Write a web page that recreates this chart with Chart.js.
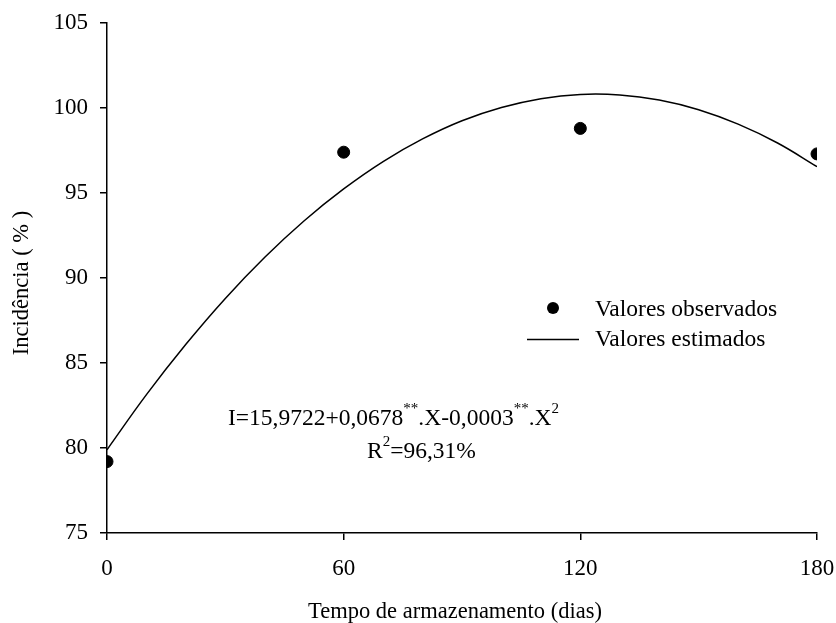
<!DOCTYPE html>
<html><head><meta charset="utf-8">
<script src="https://cdn.jsdelivr.net/npm/chart.js@4"></script>
<style>html,body{margin:0;padding:0;background:#fff}#wrap{width:836px;height:623px;position:relative}</style>
</head><body><div id="wrap"><canvas id="c" width="836" height="623"></canvas></div>
<script>
// Observed values
const obsDays = [0, 60, 120, 180];
const obsValues = [79.2, 97.4, 98.8, 97.3];
// Estimated curve
const estDays = [0, 10, 20, 30, 40, 50, 60, 70, 80, 90, 100, 110, 120, 130, 140, 150, 160, 170, 180];
const estValues = [79.9, 83.14, 86.1, 88.8, 91.22, 93.37, 95.24, 96.85, 98.18, 99.25, 100.03, 100.55, 100.8, 100.77, 100.47, 99.9, 99.05, 97.94, 96.55];
const xTicks = [0, 60, 120, 180];
const yTicks = [75, 80, 85, 90, 95, 100, 105];
const legendLabels = ['Valores observados', 'Valores estimados'];
const xTitle = 'Tempo de armazenamento (dias)';
const yTitle = 'Incidência ( % )';

const FONT = "'Liberation Serif', 'Times New Roman', serif";
Chart.defaults.font.family = FONT;
Chart.defaults.color = '#000';

const textPlugin = {
  id: 'texts',
  afterDraw(chart) {
    const ctx = chart.ctx;
    ctx.save();
    ctx.fillStyle = '#000';
    ctx.strokeStyle = '#000';
    // axis titles
    ctx.font = '22.5px ' + FONT;
    ctx.textAlign = 'center';
    ctx.textBaseline = 'middle';
    ctx.fillText(xTitle, 455, 612);
    ctx.save();
    ctx.translate(22, 283);
    ctx.rotate(-Math.PI / 2);
    ctx.fillText(yTitle, 0, 0);
    ctx.restore();
    // legend
    ctx.font = '23.5px ' + FONT;
    ctx.textAlign = 'left';
    ctx.beginPath();
    ctx.arc(553, 308, 6, 0, Math.PI * 2);
    ctx.fill();
    ctx.fillText(legendLabels[0], 595, 310);
    ctx.lineWidth = 1.5;
    ctx.beginPath();
    ctx.moveTo(527, 339.5);
    ctx.lineTo(579, 339.5);
    ctx.stroke();
    ctx.fillText(legendLabels[1], 595, 340);
    // equation with superscripts
    const parts = [
      ['I=15,9722+0,0678', false], ['**', true], ['.X-0,0003', false], ['**', true], ['.X', false], ['2', true]
    ];
    let x = 228, y = 419;
    for (const [t, sup] of parts) {
      ctx.font = (sup ? '15px ' : '23.5px ') + FONT;
      ctx.fillText(t, x, sup ? y - 10 : y);
      x += ctx.measureText(t).width;
    }
    const parts2 = [['R', false], ['2', true], ['=96,31%', false]];
    x = 367; y = 452;
    for (const [t, sup] of parts2) {
      ctx.font = (sup ? '15px ' : '23.5px ') + FONT;
      ctx.fillText(t, x, sup ? y - 10 : y);
      x += ctx.measureText(t).width;
    }
    ctx.restore();
  }
};

new Chart(document.getElementById('c'), {
  type: 'scatter',
  data: {
    datasets: [
      {
        label: legendLabels[1],
        data: estDays.map((d, i) => ({x: d, y: estValues[i]})),
        showLine: true,
        borderColor: '#000',
        borderWidth: 1.5,
        pointRadius: 0,
        tension: 0.4,
        fill: false
      },
      {
        label: legendLabels[0],
        data: obsDays.map((d, i) => ({x: d, y: obsValues[i]})),
        backgroundColor: '#000',
        borderColor: '#000',
        pointRadius: 6,
        showLine: false
      }
    ]
  },
  options: {
    responsive: false,
    animation: false,
    events: [],
    layout: {padding: {top: 23, right: 19, left: 0, bottom: 0}},
    plugins: {legend: {display: false}, tooltip: {enabled: false}},
    scales: {
      x: {
        type: 'linear', min: 0, max: 180,
        afterBuildTicks: s => { s.ticks = xTicks.map(v => ({value: v})); },
        afterFit: s => { s.height = 90; s.paddingLeft = 0; s.paddingRight = 0; },
        grid: {display: true, drawOnChartArea: false, drawTicks: true, tickLength: 7, color: '#000', lineWidth: 1.5},
        border: {display: true, color: '#000', width: 1.5},
        ticks: {font: {size: 23}, color: '#000', padding: 15, maxRotation: 0}
      },
      y: {
        type: 'linear', min: 75, max: 105,
        afterBuildTicks: s => { s.ticks = yTicks.map(v => ({value: v})); },
        afterFit: s => { s.width = 107; s.paddingTop = 0; s.paddingBottom = 0; },
        grid: {display: true, drawOnChartArea: false, drawTicks: true, tickLength: 7, color: '#000', lineWidth: 1.5},
        border: {display: true, color: '#000', width: 1.5},
        ticks: {font: {size: 23}, color: '#000', padding: 12}
      }
    }
  },
  plugins: [textPlugin]
});
</script></body></html>
